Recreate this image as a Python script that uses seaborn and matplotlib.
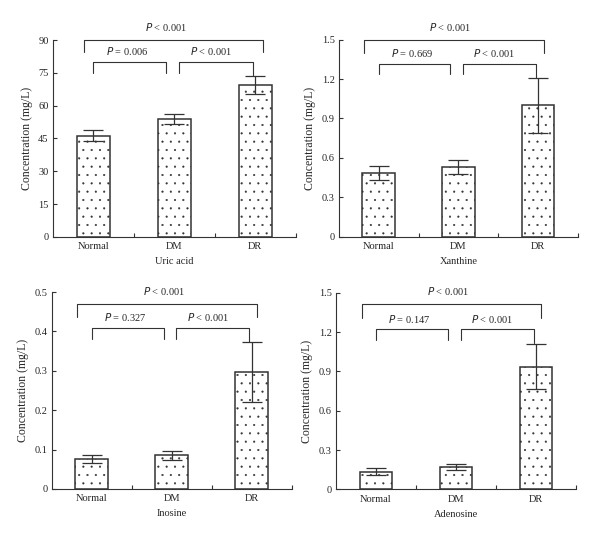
import matplotlib
matplotlib.use("Agg")
import matplotlib.pyplot as plt
import seaborn as sns
import pandas as pd

# ─── Data ────────────────────────────────────────────────────

groups = ["Normal", "DM", "DR"]
panel_titles = ["Uric acid", "Xanthine", "Inosine", "Adenosine"]

uric_mean = [46.3, 53.8, 69.6]
uric_err = [2.6, 2.2, 4.1]
xanthine_mean = [0.485, 0.53, 1.0]
xanthine_err = [0.055, 0.052, 0.21]
inosine_mean = [0.077, 0.085, 0.297]
inosine_err = [0.010, 0.012, 0.076]
adenosine_mean = [0.135, 0.172, 0.935]
adenosine_err = [0.027, 0.022, 0.17]

y_max = [90, 1.5, 0.5, 1.5]
y_ticks = [
    [0, 15, 30, 45, 60, 75, 90],
    [0, 0.3, 0.6, 0.9, 1.2, 1.5],
    [0, 0.1, 0.2, 0.3, 0.4, 0.5],
    [0, 0.3, 0.6, 0.9, 1.2, 1.5],
]
y_ticklabels = [
    ["0", "15", "30", "45", "60", "75", "90"],
    ["0", "0.3", "0.6", "0.9", "1.2", "1.5"],
    ["0", "0.1", "0.2", "0.3", "0.4", "0.5"],
    ["0", "0.3", "0.6", "0.9", "1.2", "1.5"],
]

p_dm = ["0.006", "0.669", "0.327", "0.147"]

# bracket heights as fraction of y max: (big top, big leg, small top, small leg, right leg of 2nd)
bracket_levels = [
    (1.003, 0.941, 0.890, 0.834, 0.817),
    (1.000, 0.933, 0.878, 0.824, 0.807),
    (0.942, 0.874, 0.820, 0.764, 0.748),
    (0.943, 0.870, 0.814, 0.760, 0.743),
]
big_x = [(-0.12, 2.09), (-0.18, 2.08), (-0.18, 2.07), (-0.18, 2.06)]

axes_boxes = [
    (0.088, 0.563, 0.405, 0.363),
    (0.565, 0.563, 0.398, 0.364),
    (0.086, 0.098, 0.400, 0.363),
    (0.560, 0.097, 0.400, 0.363),
]

means = [uric_mean, xanthine_mean, inosine_mean, adenosine_mean]
errs = [uric_err, xanthine_err, inosine_err, adenosine_err]

# ─── Plot ────────────────────────────────────────────────────

sns.set_style("ticks")
plt.rcParams["font.family"] = ["Liberation Serif", "DejaVu Serif"]
plt.rcParams["hatch.linewidth"] = 0.3
FS = 7.5
LINE = "#333333"

fig = plt.figure(figsize=(6.0, 5.42), dpi=100)

for i in range(4):
    ax = fig.add_axes(axes_boxes[i])
    df = pd.DataFrame({"group": groups, "value": means[i]})
    sns.barplot(data=df, x="group", y="value", ax=ax, color="white",
                edgecolor=LINE, linewidth=1.1, width=0.41, errorbar=None)
    for patch in ax.patches:
        patch.set_hatch("..")
        patch.set_facecolor("white")
    ax.errorbar(range(3), means[i], yerr=errs[i], fmt="none", ecolor=LINE,
                elinewidth=0.9, capsize=7, capthick=0.9)

    ax.set_xlim(-0.5, 2.5)
    ax.set_ylim(0, y_max[i])
    ax.set_yticks(y_ticks[i])
    ax.set_yticklabels(y_ticklabels[i], fontsize=FS)
    ax.set_xticks([0, 1, 2])
    ax.set_xticklabels(groups, fontsize=FS)
    ax.set_xticks([0.5, 1.5, 2.5], minor=True)
    ax.tick_params(axis="x", which="major", length=0, pad=4)
    ax.tick_params(axis="x", which="minor", direction="in", length=3, width=0.8, color=LINE)
    ax.tick_params(axis="y", direction="in", length=3, width=0.8, pad=3, color=LINE)
    for s in ["left", "bottom"]:
        ax.spines[s].set_linewidth(0.8)
        ax.spines[s].set_color(LINE)
    sns.despine(ax=ax)
    ax.set_xlabel(panel_titles[i], fontsize=FS, labelpad=4)
    ax.set_ylabel("Concentration (mg/L)", fontsize=8.5, labelpad=4)

    ym = y_max[i]
    big_top, big_leg, sm_top, sm_leg, right_leg = [v * ym for v in bracket_levels[i]]
    bx0, bx1 = big_x[i]
    lw = 0.8
    ax.plot([bx0, bx0, bx1, bx1], [big_leg, big_top, big_top, big_leg],
            color=LINE, lw=lw, clip_on=False)
    ax.plot([0.0, 0.0, 0.9, 0.9], [sm_leg, sm_top, sm_top, sm_leg],
            color=LINE, lw=lw, clip_on=False)
    ax.plot([1.06, 1.06, 1.97, 1.97], [sm_leg, sm_top, sm_top, right_leg],
            color=LINE, lw=lw, clip_on=False)

    ax.text(0.9, big_top + 0.065 * ym, r"$P$ < 0.001", ha="center", va="center",
            fontsize=FS, clip_on=False)
    ax.text(0.42, sm_top + 0.053 * ym, r"$P$ = " + p_dm[i], ha="center", va="center",
            fontsize=FS, clip_on=False)
    ax.text(1.45, sm_top + 0.053 * ym, r"$P$ < 0.001", ha="center", va="center",
            fontsize=FS, clip_on=False)

fig.savefig("out.png", dpi=100)
